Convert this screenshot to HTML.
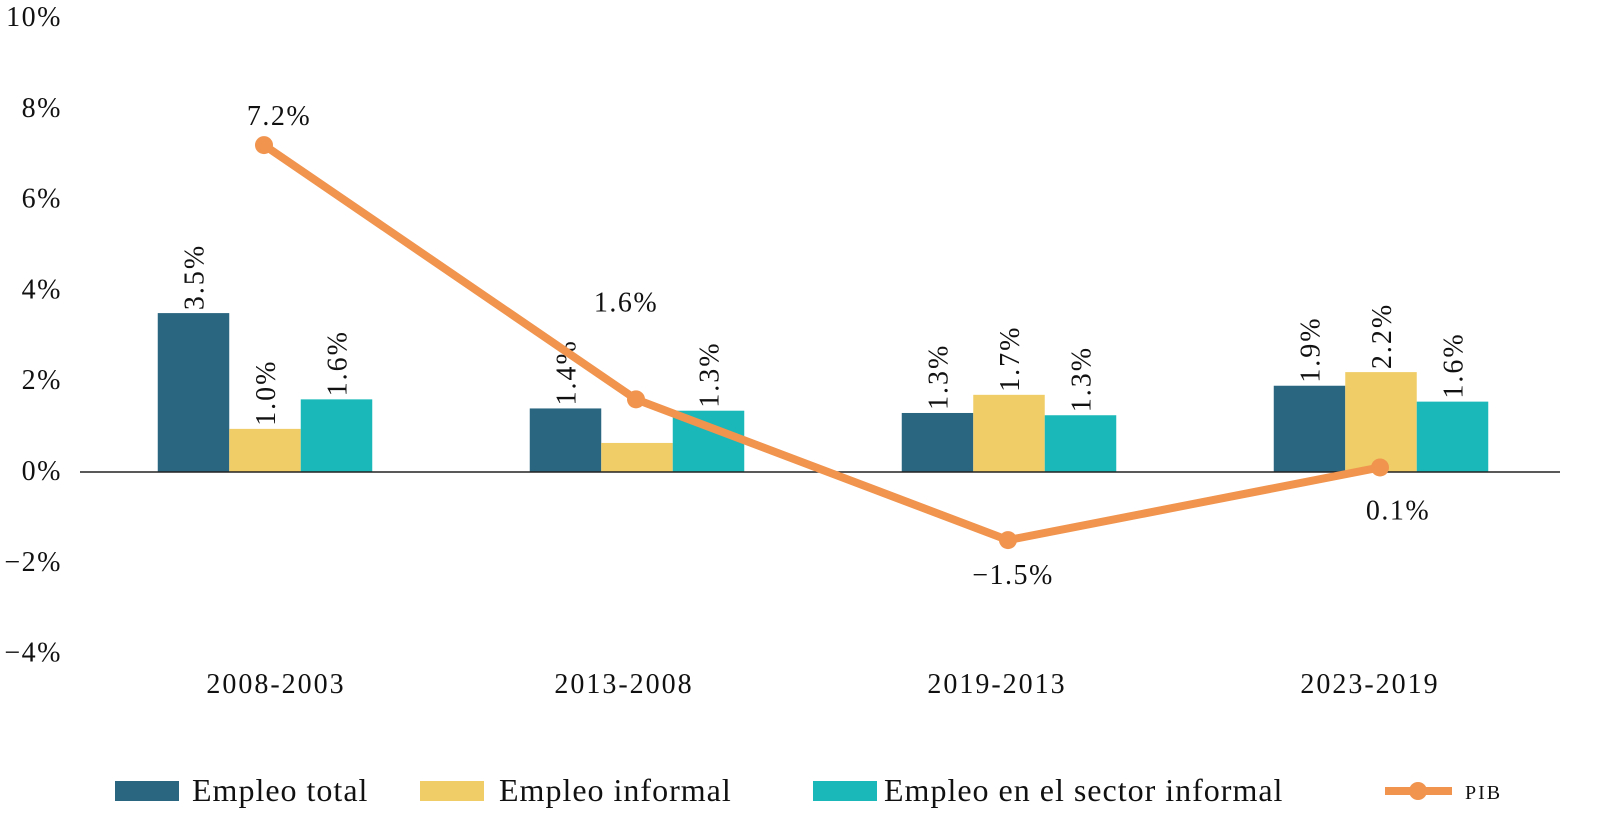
<!DOCTYPE html>
<html><head><meta charset="utf-8"><style>
body{margin:0;background:#fff;}
svg{display:block;font-family:"Liberation Serif",serif;}
</style></head><body>
<svg id="chart" width="1615" height="833"></svg>
<script>
const categories=["2008-2003","2013-2008","2019-2013","2023-2019"];
const empleoTotal=[3.5,1.4,1.3,1.9];
const empleoInformal=[0.95,0.64,1.7,2.2];
const empleoSector=[1.6,1.35,1.25,1.55];
const labelsTotal=["3.5%","1.4%","1.3%","1.9%"];
const labelsInformal=["1.0%","","1.7%","2.2%"];
const labelsSector=["1.6%","1.3%","1.3%","1.6%"];
const pib=[7.2,1.6,-1.5,0.1];
const pibLabels=["7.2%","1.6%","\u22121.5%","0.1%"];
const yTicks=[10,8,6,4,2,0,-2,-4];
const yTickLabels=["10%","8%","6%","4%","2%","0%","\u22122%","\u22124%"];

const NS="http://www.w3.org/2000/svg";
const svg=document.getElementById('chart');
function y(v){return 472-v*45.4;}
function xc(i){return 265+i*372;}
const bw=71.5;
function mk(tag,attrs,parent){const e=document.createElementNS(NS,tag);for(const k in attrs)e.setAttribute(k,attrs[k]);(parent||svg).appendChild(e);return e;}

yTicks.forEach((t,i)=>{
  const e=mk('text',{x:62,y:y(t)+8,'text-anchor':'end','font-size':28,'letter-spacing':1.5,fill:'#111'});
  e.textContent=yTickLabels[i];
  
  
});

const series=[[empleoTotal,'#2a6680',labelsTotal,'empleo-total'],[empleoInformal,'#f0cd66',labelsInformal,'empleo-informal'],[empleoSector,'#1ab8b8',labelsSector,'empleo-sector-informal']];
categories.forEach((c,i)=>{
  series.forEach((s,j)=>{
    const x0=xc(i)-1.5*bw+j*bw;
    const v=s[0][i];
    const r=mk('rect',{x:x0,y:Math.min(y(v),y(0)),width:bw,height:Math.abs(y(v)-y(0)),fill:s[1]});
    
    
    if(s[2][i]){
      const tx=x0+bw/2+10, ty=y(v)-3;
      const t=mk('text',{x:tx,y:ty,'font-size':28,'letter-spacing':2,fill:'#111',transform:`rotate(-90 ${tx} ${ty})`});
      t.textContent=s[2][i];
      
      
    }
  });
  const cl=mk('text',{x:xc(i)+(i===0?11:i===1?-13:i===2?-12:-11),y:693,'text-anchor':'middle','font-size':28,'letter-spacing':2,fill:'#111'});
  cl.textContent=c;
  
  
});

const zl=mk('line',{x1:80,x2:1560,y1:y(0),y2:y(0),stroke:'#222','stroke-width':1.5});



const pts=pib.map((v,i)=>[xc(i)-1,y(v)]);
const pl=mk('polyline',{points:pts.map(p=>p.join(',')).join(' '),fill:'none',stroke:'#f0944e','stroke-width':8,'stroke-linejoin':'round'});


const off=[[15,-20],[-10,-88],[5,44],[18,52]];
pts.forEach((p,i)=>{
  const c=mk('circle',{cx:p[0],cy:p[1],r:9,fill:'#f0944e'});
  
  
  const t=mk('text',{x:p[0]+off[i][0],y:p[1]+off[i][1],'text-anchor':'middle','font-size':28,'letter-spacing':1.5,fill:'#111'});
  t.textContent=pibLabels[i];
  
  
});

const legend=[[115,'#2a6680','Empleo total',192],[420,'#f0cd66','Empleo informal',499],[813,'#1ab8b8','Empleo en el sector informal',884]];
legend.forEach(l=>{
  const r=mk('rect',{x:l[0],y:781,width:64,height:20,fill:l[1]});
  
  
  const t=mk('text',{x:l[3],y:801,'font-size':32,'letter-spacing':1,fill:'#111'});
  t.textContent=l[2];
  
  
});
const ll=mk('line',{x1:1385,x2:1452,y1:791,y2:791,stroke:'#f0944e','stroke-width':8});


const lc=mk('circle',{cx:1418,cy:791,r:9,fill:'#f0944e'});


const lt=mk('text',{x:1465,y:799,'font-size':20,fill:'#111','letter-spacing':2});
lt.textContent='PIB';


</script>
</body></html>
